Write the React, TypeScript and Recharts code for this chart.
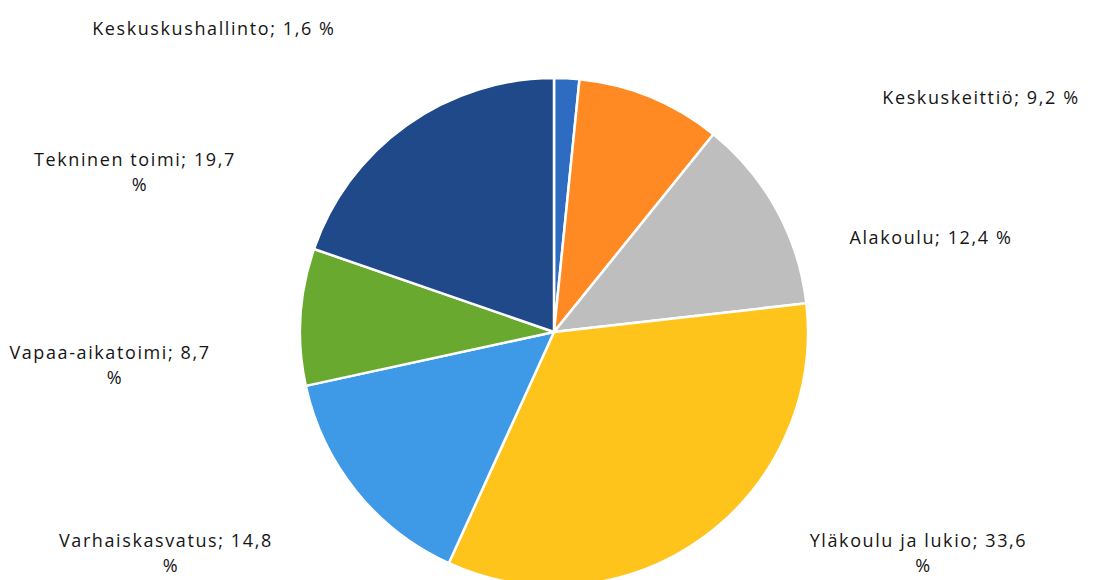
import React from 'react';
import { PieChart, Pie, Cell } from 'recharts';

const categories = [
  'Keskuskushallinto',
  'Keskuskeittiö',
  'Alakoulu',
  'Yläkoulu ja lukio',
  'Varhaiskasvatus',
  'Vapaa-aikatoimi',
  'Tekninen toimi',
];
const shares = [1.6, 9.2, 12.4, 33.6, 14.8, 8.7, 19.7];
const valueLabels = ['1,6', '9,2', '12,4', '33,6', '14,8', '8,7', '19,7'];

const colors = ['#2E6CC2', '#FF8A24', '#BEBEBE', '#FFC41C', '#3E9AE6', '#69A930', '#1F4989'];

// label placement relative to pie center, in units of outer radius
const labelLayout = [
  { dx: -1.339, dy: -1.197, wrap: false },
  { dx: 1.681, dy: -0.925, wrap: false },
  { dx: 1.484, dy: -0.374, wrap: false },
  { dx: 1.435, dy: 0.82, wrap: true },
  { dx: -1.528, dy: 0.82, wrap: true },
  { dx: -1.748, dy: 0.079, wrap: true },
  { dx: -1.65, dy: -0.681, wrap: true },
];

const data = categories.map((name, i) => ({ name, value: shares[i], text: valueLabels[i] }));

const FONT = "'Open Sans', sans-serif";
const FS = 18;
const LS = 1.6;

const renderLabel = (props: any) => {
  const { cx, cy, outerRadius, index } = props;
  const l = labelLayout[index];
  const x = cx + l.dx * outerRadius;
  const y = cy + l.dy * outerRadius;
  const d = data[index];
  const common = {
    textAnchor: 'middle' as const,
    fill: '#151515',
    fontSize: FS,
    fontFamily: FONT,
    letterSpacing: LS,
    dominantBaseline: 'central' as const,
  };
  if (l.wrap) {
    return (
      <text x={x} y={y} {...common}>
        <tspan x={x} dy={0}>{`${d.name}; ${d.text}`}</tspan>
        <tspan x={x + 5} dy={25}>%</tspan>
      </text>
    );
  }
  return (
    <text x={x} y={y} {...common}>
      {`${d.name}; ${d.text} %`}
    </text>
  );
};

export default function App() {
  return (
    <div style={{ position: 'absolute', left: 0, top: 0, width: 1099, height: 580, background: '#fff' }}>
      <PieChart width={1099} height={580} margin={{ top: 0, right: 0, bottom: 0, left: 0 }}>
        <Pie
          data={data}
          dataKey="value"
          nameKey="name"
          cx={554}
          cy={332}
          outerRadius={254}
          startAngle={90}
          endAngle={-270}
          stroke="#ffffff"
          strokeWidth={2.5}
          label={renderLabel}
          labelLine={false}
          isAnimationActive={false}
        >
          {data.map((d, i) => (
            <Cell key={d.name} fill={colors[i]} />
          ))}
        </Pie>
      </PieChart>
    </div>
  );
}
